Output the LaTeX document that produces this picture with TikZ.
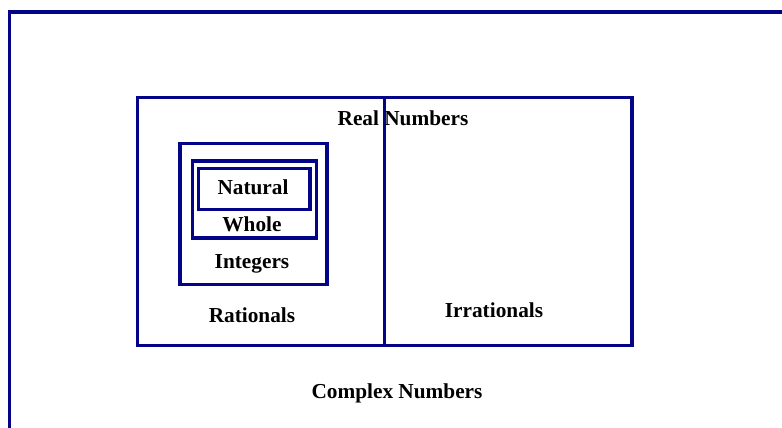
\documentclass[tikz,border=0pt]{standalone}
\usepackage{fontspec}
\setmainfont{Liberation Serif}
\definecolor{setblue}{RGB}{4,4,136}
\tikzset{
  setbox/.style={draw=setblue,line width=3.4pt},
  setname/.style={font=\bfseries\fontsize{21.3}{24}\selectfont,anchor=base,inner sep=0pt}
}

\begin{document}
\begin{tikzpicture}[x=1pt,y=-1pt]
  \useasboundingbox (0,0) rectangle (782,428);
  \clip (0,0) rectangle (782,428);
  % complex numbers (runs off the page)
  \draw[setbox,line width=3.8pt] (9.5,12) rectangle (800,440);
  % real numbers
  \draw[setbox] (137.5,97.5) rectangle (632,345.5);
  \draw[setbox] (384.5,97.5) -- (384.5,345.5);
  % integers, whole, natural
  \draw[setbox] (180,143.5) rectangle (327,284.5);
  \draw[setbox] (192.5,161) rectangle (316.5,238);
  \draw[setbox] (198.5,168.5) rectangle (310,209.5);

  \node[setname] (real) at (403,125) {Real Numbers};
  \node[setname] (natural) at (253,194) {Natural};
  \node[setname] (whole) at (252,231) {Whole};
  \node[setname] (integers) at (252,268) {Integers};
  \node[setname] (rationals) at (252,322) {Rationals};
  \node[setname] (irrationals) at (494,317) {Irrationals};
  \node[setname] (complex) at (397,398) {Complex Numbers};
\end{tikzpicture}
\end{document}
